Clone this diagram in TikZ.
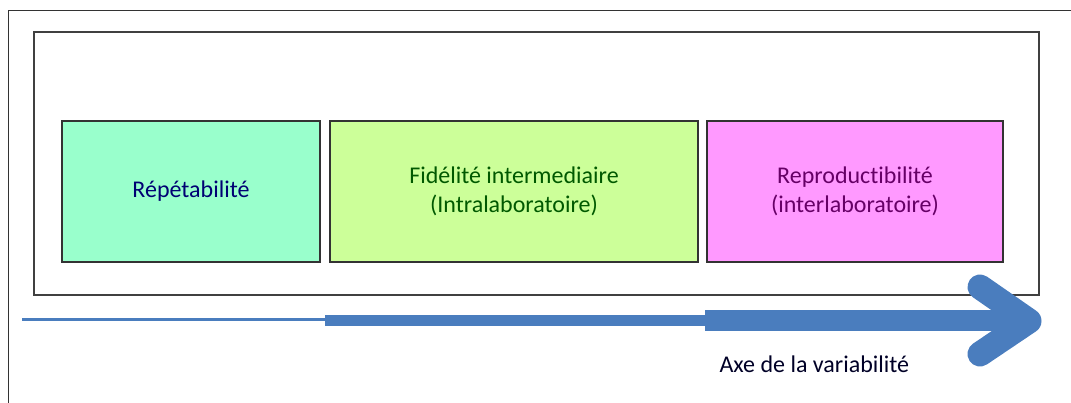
\documentclass[tikz,border=0pt]{standalone}
\usepackage{fontspec}
\setmainfont[Ligatures=NoCommon]{Carlito}
\usetikzlibrary{positioning}
\definecolor{menthe}{HTML}{99FFCC}
\definecolor{anis}{HTML}{CCFF99}
\definecolor{rose}{HTML}{FF99FF}
\definecolor{bleuaxe}{HTML}{4A7DBE}
\tikzstyle{cadre}=[draw=black!75,line width=1.2pt]
\tikzstyle{bloc}=[draw=black!80,line width=1.3pt,minimum height=141pt,
                  inner sep=0pt,align=center,
                  font=\fontsize{24}{29}\selectfont]
\tikzstyle{axe}=[bleuaxe]
\tikzstyle{pointe}=[bleuaxe,line width=25pt,line cap=round,line join=round]

\begin{document}
\begin{tikzpicture}[x=1pt,y=-1pt]
\useasboundingbox (0,0) rectangle (1071,403);
\draw[black!80,line width=1pt] (8,403) -- (8,11) -- (1071,11);
\draw[cadre] (34,32) rectangle (1039,295);
\node[bloc,fill=menthe,text=blue!45!black,minimum width=258pt]
  (rep) at (191,191.5) {Répétabilité};
\node[bloc,fill=anis,text=green!35!black,minimum width=368pt]
  (fid) at (514,191.5) {Fidélité intermediaire\\(Intralaboratoire)};
\node[bloc,fill=rose,text=violet!80!black,minimum width=296pt]
  (repro) at (855,191.5) {Reproductibilité\\(interlaboratoire)};
% axe de la variabilite
\coordinate (a0) at (22,320);
\coordinate (a1) at (325,320.5);
\coordinate (a2) at (705,321);
\coordinate (pic) at (1029,321);
\draw[axe,line width=3pt] (a0) -- (a1 |- a0);
\draw[axe,line width=11pt] (a1) -- (a2 |- a1);
\draw[axe,line width=21pt] (a2) -- (pic);
\draw[pointe] (980,287) -- (pic) -- (980,354);
\node[anchor=base west,text=black!85!blue,font=\fontsize{24}{29}\selectfont]
  (lab) at (716,372) {Axe de la variabilité};
\end{tikzpicture}
\end{document}
